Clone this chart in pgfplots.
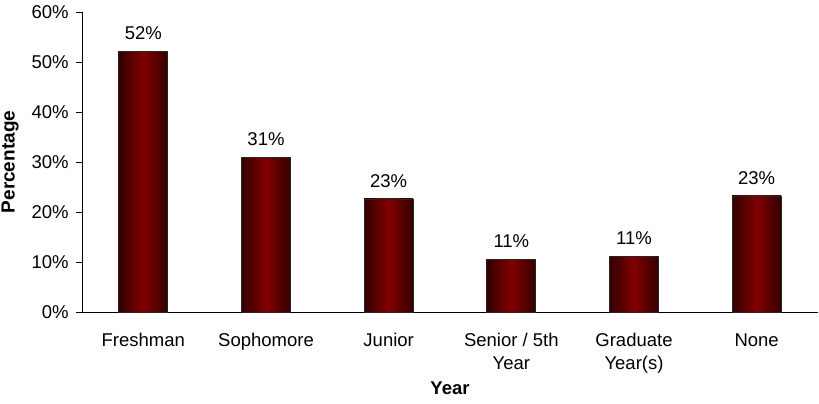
\documentclass[border=0pt]{standalone}
\usepackage{pgfplots}
\pgfplotsset{compat=1.18}
\usepackage{fontspec}
\setmainfont{Liberation Sans}
\definecolor{barmid}{HTML}{820000}
\definecolor{baredge}{HTML}{330000}
\begin{document}
\fontsize{18.5}{22}\selectfont
\begin{tikzpicture}
\path[use as bounding box] (-82pt,-92pt) rectangle (737pt,312pt);
\begin{axis}[
  at={(0,0)}, anchor=south west,
  scale only axis,
  width=736pt, height=300pt,
  xmin=-0.5, xmax=5.5,
  ymin=0, ymax=60,
  ytick={0,10,...,60},
  yticklabel={\pgfmathprintnumber{\tick}\%},
  xtick={0,...,5},
  xticklabels={Freshman,Sophomore,Junior,{Senior / 5th\\Year},{Graduate\\Year(s)},None},
  xticklabel style={align=center, font=\fontsize{18.5}{23}\selectfont, yshift=-9pt},
  extra x ticks={-0.5,0.5,1.5,2.5,3.5,4.5,5.5},
  extra x tick labels={},
  extra x tick style={major tick length=6pt, tick style={black}},
  major x tick style={draw=none},
  /pgf/number format/assume math mode=true,
  axis x line*=bottom,
  axis y line*=left,
  y tick style={black},
  major tick length=6pt,
  tick align=outside,
  xtick pos=bottom, ytick pos=left,
  xlabel={\textbf{Year}},
  ylabel={\textbf{Percentage}},
  xlabel style={at={(axis description cs:0.5,0)}, anchor=center, yshift=-76pt, font=\fontsize{18.5}{22}\selectfont},
  ylabel style={at={(axis description cs:0,0.5)}, anchor=center, rotate=0, yshift=72pt, font=\fontsize{19}{22}\selectfont},
  yticklabel style={font=\fontsize{18.5}{22}\selectfont, xshift=-1pt},
  tick label style={font=\fontsize{18.5}{22}\selectfont},
  axis line style={black, line width=0.8pt},
  clip=false,
  nodes near coords={\pgfmathprintnumber[fixed,precision=0]{\pgfplotspointmeta}\%},
  nodes near coords style={font=\fontsize{18.5}{22}\selectfont, yshift=5pt},
  point meta=explicit,
]
\pgfplotsset{barsty/.style={ybar, bar width=49pt, draw=black!85, line width=0.8pt,
  left color=baredge, right color=baredge, middle color=barmid}}
\addplot[barsty] coordinates {(0,52.1) [52]};
\addplot[barsty] coordinates {(1,30.9) [31]};
\addplot[barsty] coordinates {(2,22.6) [23]};
\addplot[barsty] coordinates {(3,10.5) [11]};
\addplot[barsty] coordinates {(4,11.1) [11]};
\addplot[barsty] coordinates {(5,23.2) [23]};
\end{axis}
\end{tikzpicture}
\end{document}
